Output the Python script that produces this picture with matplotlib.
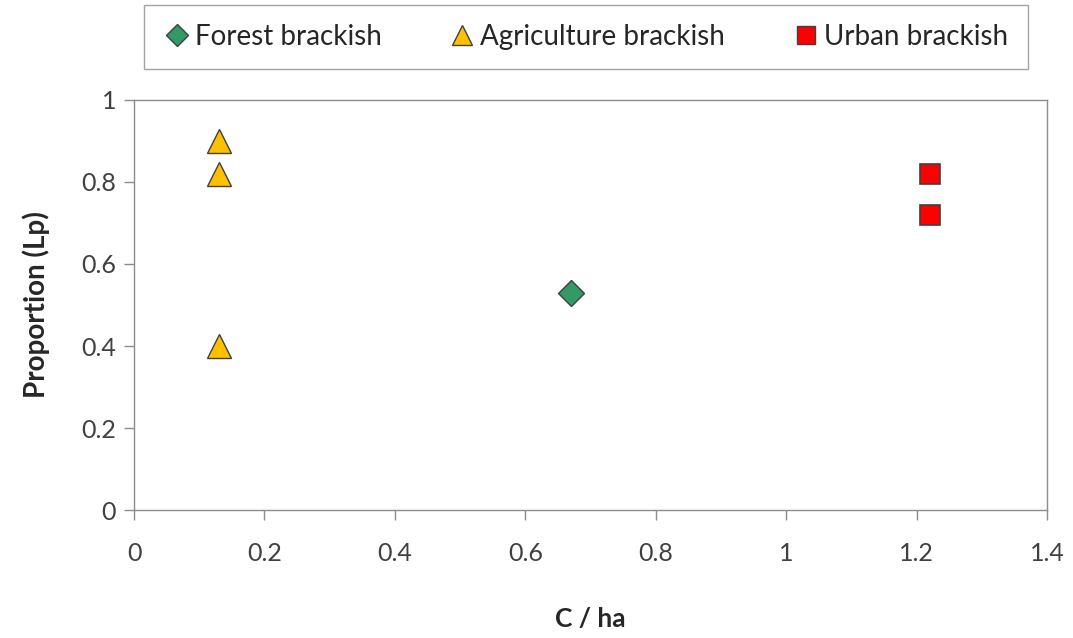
import matplotlib
matplotlib.use("Agg")
import matplotlib.pyplot as plt
from matplotlib.lines import Line2D

# ── Data ──────────────────────────────────────────────────────────────
forest_x = [0.67]
forest_y = [0.53]
agri_x = [0.13, 0.13, 0.13]
agri_y = [0.90, 0.82, 0.40]
urban_x = [1.22, 1.22]
urban_y = [0.82, 0.72]

x_ticks = [0, 0.2, 0.4, 0.6, 0.8, 1.0, 1.2, 1.4]
x_labels = ["0", "0.2", "0.4", "0.6", "0.8", "1", "1.2", "1.4"]
y_ticks = [0, 0.2, 0.4, 0.6, 0.8, 1.0]
y_labels = ["0", "0.2", "0.4", "0.6", "0.8", "1"]

plt.rcParams["font.family"] = ["Lato", "DejaVu Sans"]

fig = plt.figure(figsize=(10.73, 6.38), dpi=100)
ax = fig.add_axes([0.1249, 0.2006, 0.8509, 0.6427])

EDGE = "#404040"
ax.plot(forest_x, forest_y, ls="none", marker="D", ms=13, mfc="#339966",
        mec=EDGE, mew=1.0, zorder=3)
ax.plot(agri_x, agri_y, ls="none", marker="^", ms=17, mfc="#FFC000",
        mec=EDGE, mew=1.0, zorder=3)
ax.plot(urban_x, urban_y, ls="none", marker="s", ms=15, mfc="#FF0000",
        mec=EDGE, mew=1.2, zorder=3)

ax.set_xlim(0, 1.4)
ax.set_ylim(0, 1)
ax.set_xticks(x_ticks)
ax.set_xticklabels(x_labels)
ax.set_yticks(y_ticks)
ax.set_yticklabels(y_labels)

for sp in ax.spines.values():
    sp.set_color("#8c8c8c")
    sp.set_linewidth(1.0)
ax.tick_params(axis="both", colors="#8c8c8c", length=7, width=1.0,
               labelsize=18, labelcolor="#404040")
ax.tick_params(axis="x", pad=16)
ax.tick_params(axis="y", pad=6)

ax.set_xlabel("C / ha", fontsize=19, fontweight="bold", color="#262626",
              labelpad=30)
ax.set_ylabel("Proportion (Lp)", fontsize=20, fontweight="bold",
              color="#262626", labelpad=22)

handles = [
    Line2D([], [], ls="none", marker="D", ms=11, mfc="#339966", mec=EDGE),
    Line2D([], [], ls="none", marker="^", ms=14, mfc="#FFC000", mec=EDGE),
    Line2D([], [], ls="none", marker="s", ms=13, mfc="#FF0000", mec=EDGE),
]
labels = ["Forest brackish", "Agriculture brackish", "Urban brackish"]
leg = fig.legend(handles, labels, loc="center",
                 bbox_to_anchor=(0.5457, 0.9420), ncol=3, fontsize=20,
                 frameon=True, fancybox=False, handletextpad=0.15,
                 columnspacing=2.4, borderpad=0.7, handlelength=1.0,
                 borderaxespad=0)
leg.get_frame().set_edgecolor("#8c8c8c")
leg.get_frame().set_linewidth(1.0)
for t in leg.get_texts():
    t.set_color("#262626")

fig.savefig("out.png", dpi=100, facecolor="white")
